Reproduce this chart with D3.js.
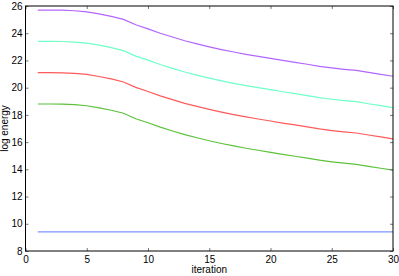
<!DOCTYPE html>
<html><head><meta charset="utf-8">
<script src="https://cdn.jsdelivr.net/npm/d3@7"></script>
<style>body{margin:0;background:#fff}svg{display:block}text{font-family:"Liberation Sans",Arial,sans-serif}</style>
</head><body>
<svg id="c" width="399" height="276"></svg>
<script>
const iterations = d3.range(1, 31);
const xTicks = [0, 5, 10, 15, 20, 25, 30];
const yTicks = [8, 10, 12, 14, 16, 18, 20, 22, 24, 26];
const purple = [25.70,25.70,25.69,25.65,25.57,25.42,25.24,25.02,24.62,24.32,24.00,23.72,23.45,23.22,23.00,22.80,22.62,22.45,22.30,22.15,22.00,21.86,21.72,21.57,21.45,21.35,21.27,21.12,20.98,20.84];
const cyan   = [23.40,23.40,23.39,23.35,23.27,23.12,22.94,22.72,22.32,22.02,21.70,21.42,21.15,20.92,20.70,20.50,20.32,20.15,20.00,19.85,19.70,19.56,19.42,19.27,19.15,19.05,18.97,18.82,18.68,18.54];
const red    = [21.10,21.10,21.09,21.05,20.97,20.82,20.64,20.42,20.02,19.72,19.40,19.12,18.85,18.62,18.40,18.20,18.02,17.85,17.70,17.55,17.40,17.26,17.12,16.97,16.85,16.75,16.67,16.52,16.38,16.24];
const green  = [18.80,18.80,18.79,18.75,18.67,18.52,18.34,18.12,17.72,17.42,17.10,16.82,16.55,16.32,16.10,15.90,15.72,15.55,15.40,15.25,15.10,14.96,14.82,14.67,14.55,14.45,14.37,14.22,14.08,13.94];
const blue   = [9.4,9.4,9.4,9.4,9.4,9.4,9.4,9.4,9.4,9.4,9.4,9.4,9.4,9.4,9.4,9.4,9.4,9.4,9.4,9.4,9.4,9.4,9.4,9.4,9.4,9.4,9.4,9.4,9.4,9.4];
const series = [
  {values: blue, color: "#7b96ff"},
  {values: green, color: "#5cc23c"},
  {values: red, color: "#ff5a5a"},
  {values: cyan, color: "#70ffc8"},
  {values: purple, color: "#b266ff"}
];

const L = 25.5, R = 393, T = 6, B = 251;
const x = d3.scaleLinear().domain([0, 30]).range([L, R]);
const y = d3.scaleLinear().domain([8, 26]).range([B, T]);
const svg = d3.select("#c");

const line = d3.line().x((d, i) => x(iterations[i])).y(d => y(d));
series.forEach(s => {
  svg.append("path").attr("d", line(s.values)).attr("fill", "none")
    .attr("stroke", s.color).attr("stroke-width", 1.2);
});

function styleAxis(g, labels) {
  g.select(".domain").remove();
  g.selectAll(".tick line").attr("stroke", "#777");
  g.selectAll(".tick text").attr("fill", "#000").attr("font-size", 10)
    .style("display", labels ? null : "none");
}
svg.append("g").attr("transform", `translate(0,${B})`)
  .call(d3.axisBottom(x).tickValues(xTicks).tickSize(-3).tickPadding(5))
  .call(g => styleAxis(g, true));
svg.append("g").attr("transform", `translate(0,${T})`)
  .call(d3.axisTop(x).tickValues(xTicks).tickSize(-3))
  .call(g => styleAxis(g, false));
svg.append("g").attr("transform", `translate(${L},0)`)
  .call(d3.axisLeft(y).tickValues(yTicks).tickSize(-3).tickPadding(3))
  .call(g => styleAxis(g, true));
svg.append("g").attr("transform", `translate(${R},0)`)
  .call(d3.axisRight(y).tickValues(yTicks).tickSize(-3))
  .call(g => styleAxis(g, false));

svg.append("rect").attr("x", L).attr("y", T).attr("width", R - L).attr("height", B - T)
  .attr("fill", "none").attr("stroke", "#000").attr("stroke-width", 1);

svg.append("text").attr("x", (L + R) / 2).attr("y", 273).attr("text-anchor", "middle")
  .attr("font-size", 10).text("iteration");
svg.append("text").attr("transform", `translate(7.5,${(T + B) / 2}) rotate(-90)`)
  .attr("text-anchor", "middle").attr("font-size", 10).text("log energy");
</script>
</body></html>
